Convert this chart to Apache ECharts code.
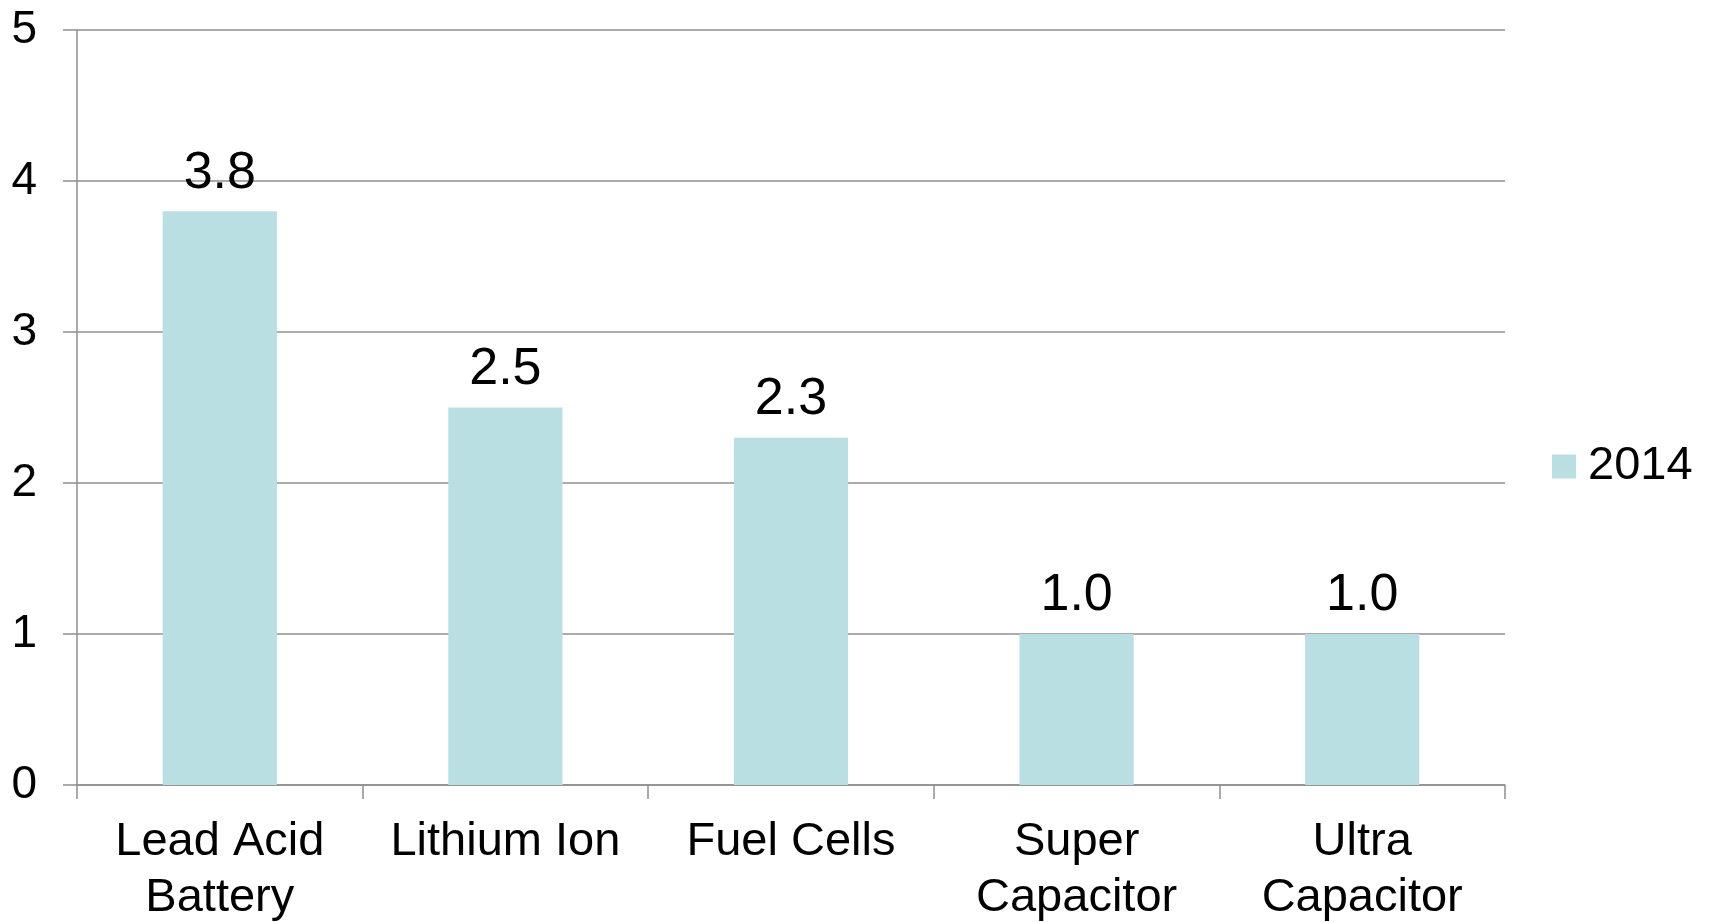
<!DOCTYPE html>
<html>
<head>
<meta charset="utf-8">
<script src="https://cdn.jsdelivr.net/npm/echarts@6/dist/echarts.min.js"></script>
<style>
  html, body { margin: 0; padding: 0; background: #fff; }
  #chart { width: 1709px; height: 922px; }
</style>
</head>
<body>
<div id="chart"></div>
<script>
  // chart data
  const categories = ['Lead Acid\nBattery', 'Lithium Ion', 'Fuel Cells', 'Super\nCapacitor', 'Ultra\nCapacitor'];
  const values2014 = [3.8, 2.5, 2.3, 1.0, 1.0];
  const seriesName = '2014';

  const font = "'Liberation Sans', Arial, sans-serif";
  const chart = echarts.init(document.getElementById('chart'));

  let option = {
    backgroundColor: '#fff',
    animation: false,
    grid: { left: 77, right: 204, top: 30, bottom: 137, containLabel: false, outerBoundsMode: 'none' },
    legend: {
      data: [seriesName],
      left: 1547,
      top: 438,
      itemWidth: 24,
      itemHeight: 24,
      icon: 'rect',
      textStyle: { fontSize: 47, color: '#000', fontFamily: font, padding: [0, 0, 0, 7] }
    },
    xAxis: {
      type: 'category',
      data: categories,
      boundaryGap: true,
      axisLine: { lineStyle: { color: '#8f8f8f', width: 1.5 } },
      axisTick: { show: true, length: 14, lineStyle: { color: '#8f8f8f', width: 1.5 } },
      axisLabel: { fontSize: 47, color: '#000', fontFamily: font, lineHeight: 56, margin: 29, interval: 0 }
    },
    yAxis: {
      type: 'value',
      min: 0,
      max: 5,
      interval: 1,
      axisLine: { show: true, lineStyle: { color: '#8f8f8f', width: 1.5 } },
      axisTick: { show: true, length: 14, lineStyle: { color: '#8f8f8f', width: 1.5 } },
      axisLabel: { fontSize: 46, color: '#000', fontFamily: font, margin: 40 },
      splitLine: { lineStyle: { color: '#8f8f8f', width: 1.5 } }
    },
    series: [{
      name: seriesName,
      type: 'bar',
      data: values2014,
      barWidth: '40%',
      itemStyle: { color: '#b9dfe2' },
      label: {
        show: true,
        position: 'top',
        distance: 12,
        fontSize: 52,
        color: '#000',
        fontFamily: font,
        formatter: p => p.value.toFixed(1)
      }
    }]
  };
  chart.setOption(option);
</script>
</body>
</html>
